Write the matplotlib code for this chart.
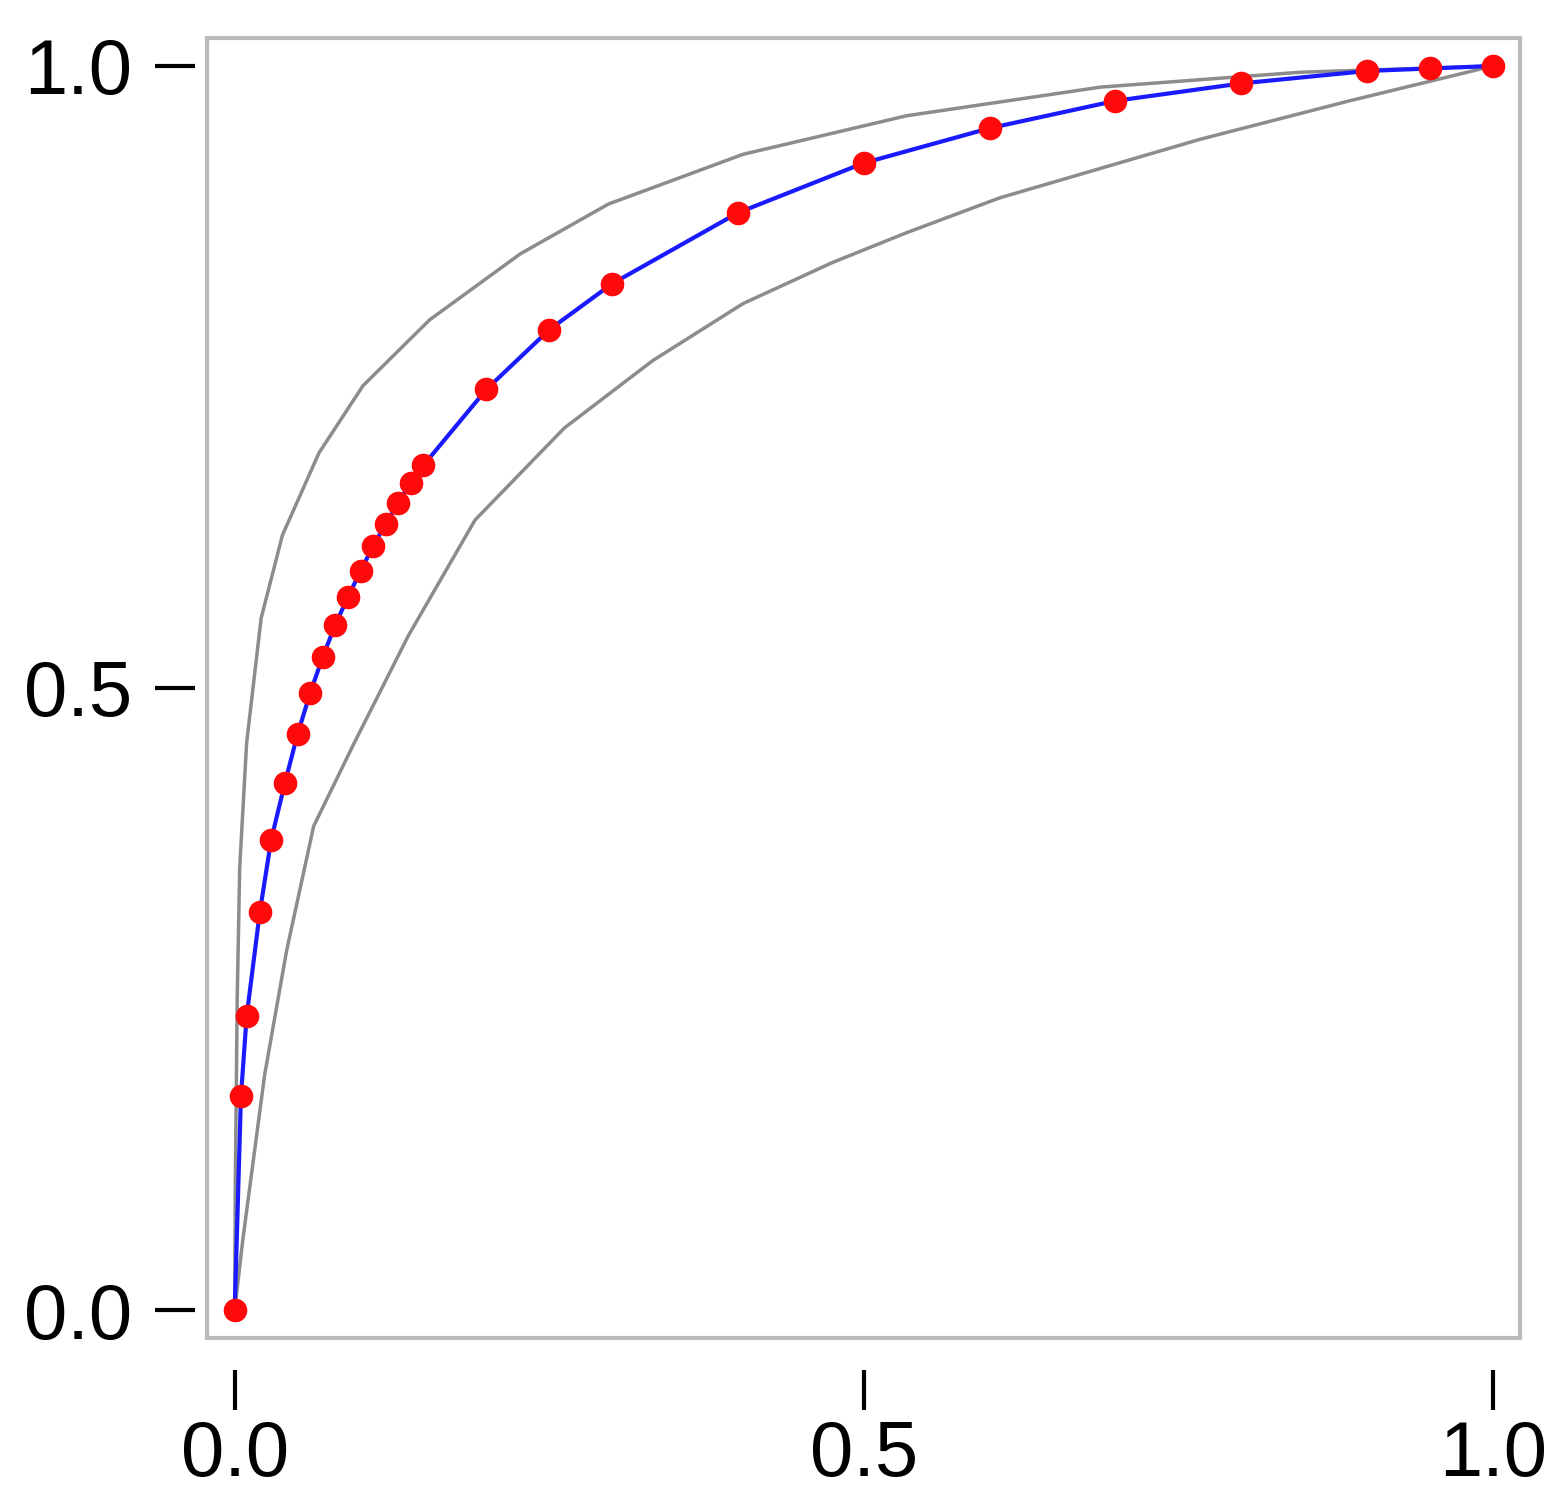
import matplotlib
matplotlib.use("Agg")
import matplotlib.pyplot as plt
from matplotlib.patches import Rectangle

roc_x = [0, 0.005, 0.0095, 0.020, 0.029, 0.040, 0.050, 0.060, 0.070, 0.080, 0.090, 0.100, 0.110,
         0.120, 0.130, 0.140, 0.150, 0.200, 0.250, 0.300, 0.400, 0.500, 0.600, 0.700, 0.800,
         0.900, 0.950, 1.0]
roc_y = [0, 0.172, 0.236, 0.320, 0.378, 0.424, 0.463, 0.496, 0.525, 0.551, 0.573, 0.594, 0.614,
         0.632, 0.649, 0.665, 0.679, 0.740, 0.788, 0.825, 0.882, 0.922, 0.950, 0.972, 0.986,
         0.996, 0.998, 1.0]
upper_x = [0, 0.0005, 0.002, 0.004, 0.0095, 0.021, 0.038, 0.067, 0.102, 0.155, 0.227, 0.297,
           0.404, 0.534, 0.688, 0.847, 1.0]
upper_y = [0, 0.10, 0.25, 0.356, 0.456, 0.556, 0.623, 0.689, 0.743, 0.796, 0.849, 0.889,
           0.929, 0.960, 0.983, 0.995, 1.0]
lower_x = [0, 0.0064, 0.0238, 0.0413, 0.0628, 0.0946, 0.138, 0.191, 0.262, 0.332, 0.404,
           0.475, 0.534, 0.608, 0.767, 0.886, 1.0]
lower_y = [0, 0.056, 0.189, 0.289, 0.389, 0.455, 0.542, 0.635, 0.709, 0.763, 0.809,
           0.842, 0.866, 0.894, 0.941, 0.972, 1.0]
ticks = [0.0, 0.5, 1.0]
tick_labels = ["0.0", "0.5", "1.0"]

plt.rcParams['font.family'] = ['Liberation Sans', 'DejaVu Sans']
fig = plt.figure(figsize=(15.54, 15.03), dpi=100)
ax = fig.add_axes([207/1554, 1 - 1338/1503, (1520-207)/1554, (1338-38)/1503])
ax.set_xlim(-0.022, 1.0215)
ax.set_ylim(-0.0225, 1.0225)

ax.plot(upper_x, upper_y, color="#8c8c8c", lw=2.5, solid_joinstyle='round')
ax.plot(lower_x, lower_y, color="#8c8c8c", lw=2.5, solid_joinstyle='round')
ax.plot(roc_x, roc_y, color="#1a1aff", lw=3, zorder=3)
ax.plot(roc_x, roc_y, 'o', color="#ff0a0a", ms=16, zorder=4)

for s in ax.spines.values():
    s.set_visible(False)
ax.spines['left'].set_position(('outward', 9))
ax.spines['bottom'].set_position(('outward', 23))
ax.add_patch(Rectangle((0, 0), 1, 1, transform=ax.transAxes, fill=False,
                       edgecolor="#bbbbbb", lw=3, clip_on=False))
ax.set_xticks(ticks)
ax.set_xticklabels(tick_labels)
ax.set_yticks(ticks)
ax.set_yticklabels(tick_labels)
ax.tick_params(direction='out', length=29, width=3, labelsize=56, pad=6)
ax.tick_params(axis='y', pad=16)
fig.savefig("out.png", dpi=100)
